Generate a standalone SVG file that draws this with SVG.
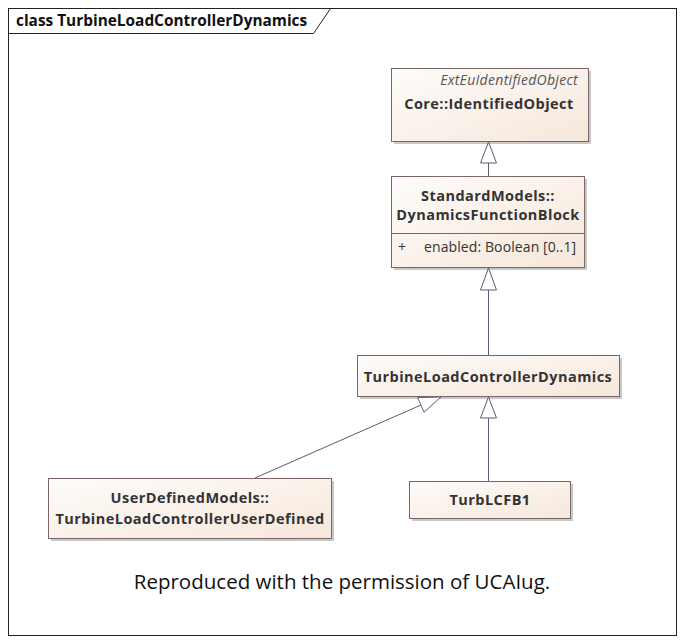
<svg xmlns="http://www.w3.org/2000/svg" width="685" height="644" viewBox="0 0 685 644">
<style>
text{font-family:"Open Sans","Liberation Sans",sans-serif;fill:#333}
.b{font-weight:bold;font-size:14.5px;letter-spacing:0.45px}
.box{fill:url(#g);stroke:#7a6666;stroke-width:1}
.sh{fill:#c8c8c8}
.c{stroke:#5a5a72;stroke-width:1;fill:none}
.tri{fill:#fff;stroke:#5a5a72;stroke-width:1}
</style>
<defs>
<linearGradient id="g" x1="0" y1="0" x2="1" y2="1"><stop offset="0" stop-color="#fefcfa"/><stop offset="1" stop-color="#f6e7da"/></linearGradient>
</defs>
<rect width="685" height="644" fill="#fff"/>
<rect x="8.5" y="8.5" width="668" height="627" fill="none" stroke="#222"/>
<path d="M8.5 33.5H313.5L330.5 8.5" fill="none" stroke="#222"/>
<text x="16" y="26" style="font-size:15.4px;font-weight:bold;fill:#111">class TurbineLoadControllerDynamics</text>
<g id="IdentifiedObject">
<rect class="sh" x="394" y="71" width="197" height="73"/>
<rect class="box" x="391.5" y="68.5" width="197" height="73"/>
<text x="578" y="85" text-anchor="end" style="font-size:14px;font-style:italic;fill:#555;letter-spacing:0.3px">ExtEuIdentifiedObject</text>
<text class="b" x="489" y="109" text-anchor="middle">Core::IdentifiedObject</text>
</g>
<g id="DynamicsFunctionBlock">
<rect class="sh" x="394" y="179" width="193" height="91"/>
<rect class="box" x="391.5" y="176.5" width="193" height="91"/>
<line x1="391.5" y1="233.5" x2="584.5" y2="233.5" stroke="#7a6666"/>
<text class="b" x="488" y="201" text-anchor="middle">StandardModels::</text>
<text class="b" x="488" y="220" text-anchor="middle">DynamicsFunctionBlock</text>
<text x="398" y="252" style="font-size:14px">+</text>
<text x="424" y="252" style="font-size:14px;letter-spacing:0.1px">enabled: Boolean [0..1]</text>
</g>
<g id="TurbineLoadControllerDynamics">
<rect class="sh" x="360" y="358" width="262" height="41"/>
<rect class="box" x="357.5" y="355.5" width="262" height="41"/>
<text class="b" x="488" y="382" text-anchor="middle">TurbineLoadControllerDynamics</text>
</g>
<g id="TurbineLoadControllerUserDefined">
<rect class="sh" x="51" y="481" width="283" height="60"/>
<rect class="box" x="48.5" y="478.5" width="283" height="60"/>
<text class="b" x="190" y="503" text-anchor="middle">UserDefinedModels::</text>
<text class="b" x="190" y="524" text-anchor="middle">TurbineLoadControllerUserDefined</text>
</g>
<g id="TurbLCFB1">
<rect class="sh" x="412" y="484" width="161" height="37"/>
<rect class="box" x="409.5" y="481.5" width="161" height="37"/>
<text class="b" x="490" y="505" text-anchor="middle">TurbLCFB1</text>
</g>
<g id="connectors">
<line class="c" x1="488.5" y1="163" x2="488.5" y2="176"/>
<polygon class="tri" points="488.5,142 480.5,163 496.5,163"/>
<line class="c" x1="488.5" y1="290" x2="488.5" y2="355"/>
<polygon class="tri" points="488.5,268 480.5,290 496.5,290"/>
<line class="c" x1="488.5" y1="418" x2="488.5" y2="481"/>
<polygon class="tri" points="488.5,397 480.5,418 496.5,418"/>
<line class="c" x1="255" y1="478" x2="421" y2="405"/>
<polygon class="tri" points="441,397 424,412.2 417.6,397.6"/>
</g>
<text x="342" y="589" text-anchor="middle" style="font-size:20.5px;fill:#111">Reproduced with the permission of UCAIug.</text>
</svg>
